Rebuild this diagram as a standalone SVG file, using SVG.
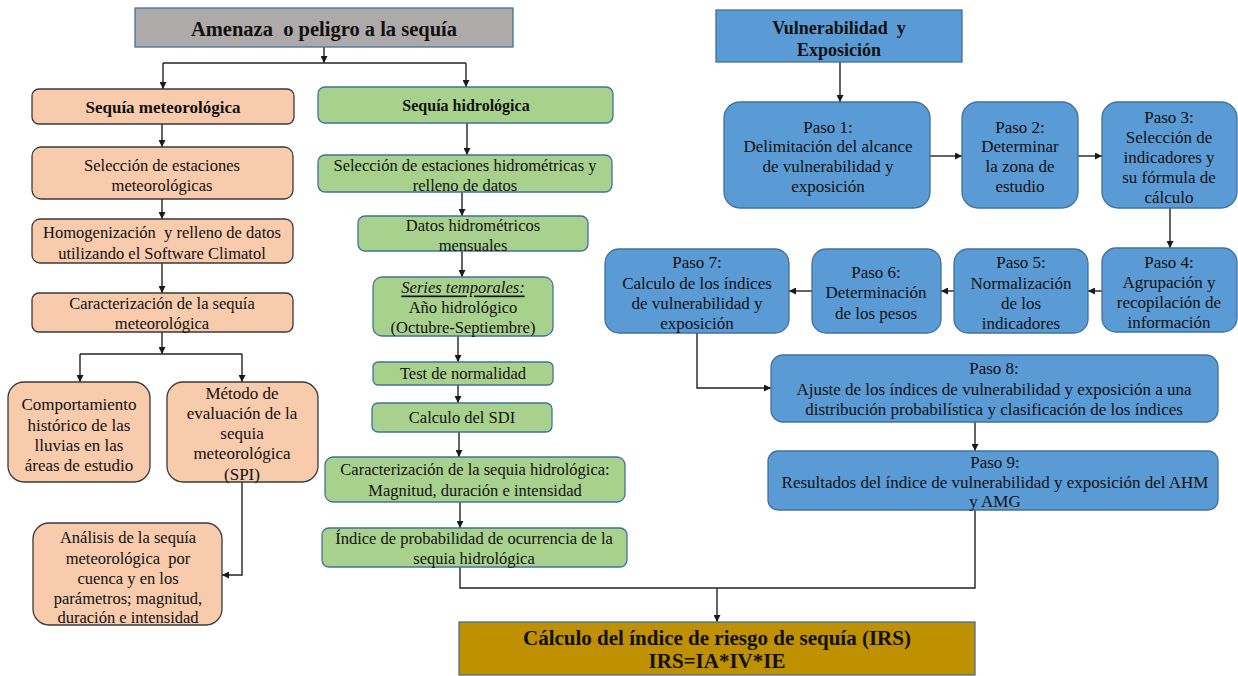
<svg xmlns="http://www.w3.org/2000/svg" width="1238" height="676" viewBox="0 0 1238 676">
  <defs>
    <marker id="arrow" viewBox="0 0 10 10" refX="10" refY="5" markerWidth="7" markerHeight="7" markerUnits="userSpaceOnUse" orient="auto">
      <path d="M0,0 L10,5 L0,10 z" fill="#1a1a1a"/>
    </marker>
    <style>
      text { font-family: "Liberation Serif", "Times New Roman", serif; fill: #111; text-anchor: middle; dominant-baseline: central; white-space: pre; }
      .t16 { font-size: 16.5px; }
      .t17 { font-size: 17px; }
      .b { font-weight: bold; }
      .met { fill: #f8cbad; stroke: #3a3a3a; stroke-width: 1.3; }
      .hid { fill: #a9d18e; stroke: #41719c; stroke-width: 1.3; }
      .vul { fill: #5b9bd5; stroke: #41719c; stroke-width: 1.3; }
      .gray { fill: #aeaaaa; stroke: #41719c; stroke-width: 1.3; }
      .gold { fill: #bf9000; stroke: #41719c; stroke-width: 1.3; }
      .conn path { fill: none; stroke: #222; stroke-width: 1.4; }
      .conn .a { marker-end: url(#arrow); }
    </style>
  </defs>
  <rect width="1238" height="676" fill="#ffffff"/>

  <!-- connectors -->
  <g id="connectors" class="conn">
    <path class="a" d="M324,47 V63"/>
    <path d="M163,63 H466"/>
    <path class="a" d="M163,63 V89"/>
    <path class="a" d="M466,63 V87"/>
    <!-- meteorological column -->
    <path class="a" d="M162,124 V147"/>
    <path class="a" d="M162,199 V219"/>
    <path class="a" d="M162,263 V293"/>
    <path class="a" d="M162,332 V354"/>
    <path d="M80,354 H242"/>
    <path class="a" d="M80,354 V382"/>
    <path class="a" d="M242,354 V382"/>
    <path class="a" d="M242,482 V575 H222"/>
    <!-- hydrological column -->
    <path class="a" d="M467,123 V155"/>
    <path class="a" d="M462,192 V216"/>
    <path class="a" d="M462,251 V277"/>
    <path class="a" d="M458,336 V362"/>
    <path class="a" d="M458,385 V403"/>
    <path class="a" d="M459,432 V457"/>
    <path class="a" d="M460,502 V528"/>
    <path d="M460,567 V588 H975 V510"/>
    <path class="a" d="M717,588 V622"/>
    <!-- vulnerability steps -->
    <path class="a" d="M840,62 V102"/>
    <path class="a" d="M930,156 H962"/>
    <path class="a" d="M1078,156 H1102"/>
    <path class="a" d="M1170,208 V248"/>
    <path class="a" d="M1102,291 H1088"/>
    <path class="a" d="M954,291 H941"/>
    <path class="a" d="M812,291 H789"/>
    <path class="a" d="M697,333 V388 H771"/>
    <path class="a" d="M975,422 V451"/>
  </g>

  <!-- hazard branch -->
  <g id="amenaza">
    <rect class="gray" x="135" y="8" width="378" height="39"/>
    <text x="324" y="29" class="b" style="font-size:20.5px" xml:space="preserve">Amenaza  o peligro a la sequía</text>
  </g>

  <g id="sequia-met">
    <rect class="met" x="32" y="89" width="262" height="35" rx="7"/>
    <text x="163" y="107" class="b" style="font-size:17px">Sequía meteorológica</text>
  </g>
  <g id="seleccion-met">
    <rect class="met" x="32" y="147" width="261" height="52" rx="9"/>
    <text x="162" y="165" class="t16">Selección de estaciones</text>
    <text x="162" y="185" class="t16">meteorológicas</text>
  </g>
  <g id="homogenizacion">
    <rect class="met" x="32" y="219" width="261" height="44" rx="8"/>
    <text x="162" y="232" class="t16" xml:space="preserve">Homogenización  y relleno de datos</text>
    <text x="162" y="253" class="t16">utilizando el Software Climatol</text>
  </g>
  <g id="caracterizacion-met">
    <rect class="met" x="32" y="293" width="261" height="39" rx="7"/>
    <text x="162" y="303" class="t16">Caracterización de la sequía</text>
    <text x="162" y="323" class="t16">meteorológica</text>
  </g>
  <g id="comportamiento">
    <rect class="met" x="8" y="382" width="142" height="100" rx="16"/>
    <text x="79" y="404" class="t17">Comportamiento</text>
    <text x="79" y="425" class="t17">histórico de las</text>
    <text x="79" y="445" class="t17">lluvias en las</text>
    <text x="79" y="465" class="t17">áreas de estudio</text>
  </g>
  <g id="metodo-spi">
    <rect class="met" x="167" y="382" width="151" height="100" rx="16"/>
    <text x="242" y="393" class="t17">Método de</text>
    <text x="242" y="413" class="t17">evaluación de la</text>
    <text x="242" y="433" class="t17">sequia</text>
    <text x="242" y="453" class="t17">meteorológica</text>
    <text x="242" y="474" class="t17">(SPI)</text>
  </g>
  <g id="analisis">
    <rect class="met" x="33" y="523" width="189" height="102" rx="16"/>
    <text x="128" y="537" class="t16">Análisis de la sequía</text>
    <text x="128" y="558" class="t16" xml:space="preserve">meteorológica  por</text>
    <text x="128" y="578" class="t16">cuenca y en los</text>
    <text x="128" y="598" class="t16">parámetros; magnitud,</text>
    <text x="128" y="617" class="t16">duración e intensidad</text>
  </g>

  <g id="sequia-hid">
    <rect class="hid" x="318" y="87" width="295" height="36" rx="7"/>
    <text x="466" y="105" class="b" style="font-size:16px">Sequía hidrológica</text>
  </g>
  <g id="seleccion-hid">
    <rect class="hid" x="318" y="155" width="294" height="37" rx="7"/>
    <text x="465" y="165" class="t16">Selección de estaciones hidrométricas y</text>
    <text x="465" y="185" class="t16">relleno de datos</text>
  </g>
  <g id="datos-hid">
    <rect class="hid" x="358" y="216" width="230" height="35" rx="7"/>
    <text x="473" y="225" class="t16">Datos hidrométricos</text>
    <text x="473" y="245" class="t16">mensuales</text>
  </g>
  <g id="series">
    <rect class="hid" x="373" y="277" width="180" height="59" rx="9"/>
    <text x="463" y="287" class="t16" style="font-style:italic;text-decoration:underline">Series temporales:</text>
    <text x="463" y="307" class="t16">Año hidrológico</text>
    <text x="463" y="327" class="t16">(Octubre-Septiembre)</text>
  </g>
  <g id="test">
    <rect class="hid" x="373" y="362" width="180" height="23" rx="5"/>
    <text x="463" y="373" class="t16">Test de normalidad</text>
  </g>
  <g id="sdi">
    <rect class="hid" x="372" y="403" width="180" height="29" rx="6"/>
    <text x="462" y="417" class="t16">Calculo del SDI</text>
  </g>
  <g id="caracterizacion-hid">
    <rect class="hid" x="325" y="457" width="300" height="45" rx="8"/>
    <text x="475" y="469" class="t16">Caracterización de la sequia hidrológica:</text>
    <text x="475" y="490" class="t16">Magnitud, duración e intensidad</text>
  </g>
  <g id="indice-prob">
    <rect class="hid" x="322" y="528" width="305" height="39" rx="7"/>
    <text x="474" y="538" class="t16">Índice de probabilidad de ocurrencia de la</text>
    <text x="474" y="558" class="t16">sequia hidrológica</text>
  </g>

  <!-- vulnerability and exposure branch -->
  <g id="vulnerabilidad">
    <rect class="vul" x="716" y="10" width="246" height="52"/>
    <text x="839" y="28" class="b" style="font-size:18px" xml:space="preserve">Vulnerabilidad  y</text>
    <text x="839" y="50" class="b" style="font-size:18px">Exposición</text>
  </g>
  <g id="paso1">
    <rect class="vul" x="724" y="102" width="206" height="106" rx="16"/>
    <text x="828" y="127" class="t17">Paso 1:</text>
    <text x="828" y="146" class="t17">Delimitación del alcance</text>
    <text x="828" y="166" class="t17">de vulnerabilidad y</text>
    <text x="828" y="186" class="t17">exposición</text>
  </g>
  <g id="paso2">
    <rect class="vul" x="962" y="102" width="116" height="106" rx="16"/>
    <text x="1020" y="127" class="t17">Paso 2:</text>
    <text x="1020" y="146" class="t17">Determinar</text>
    <text x="1020" y="166" class="t17">la zona de</text>
    <text x="1020" y="186" class="t17">estudio</text>
  </g>
  <g id="paso3">
    <rect class="vul" x="1102" y="102" width="135" height="106" rx="16"/>
    <text x="1169" y="117" class="t17">Paso 3:</text>
    <text x="1169" y="137" class="t17">Selección de</text>
    <text x="1169" y="157" class="t17">indicadores y</text>
    <text x="1169" y="177" class="t17">su fórmula de</text>
    <text x="1169" y="197" class="t17">cálculo</text>
  </g>
  <g id="paso4">
    <rect class="vul" x="1102" y="248" width="135" height="84" rx="14"/>
    <text x="1169" y="262" class="t17">Paso 4:</text>
    <text x="1169" y="282" class="t17">Agrupación y</text>
    <text x="1169" y="302" class="t17">recopilación de</text>
    <text x="1169" y="322" class="t17">información</text>
  </g>
  <g id="paso5">
    <rect class="vul" x="954" y="249" width="134" height="84" rx="14"/>
    <text x="1021" y="262" class="t17">Paso 5:</text>
    <text x="1021" y="283" class="t17">Normalización</text>
    <text x="1021" y="303" class="t17">de los</text>
    <text x="1021" y="323" class="t17">indicadores</text>
  </g>
  <g id="paso6">
    <rect class="vul" x="812" y="249" width="129" height="84" rx="14"/>
    <text x="876" y="272" class="t17">Paso 6:</text>
    <text x="876" y="292" class="t17">Determinación</text>
    <text x="876" y="313" class="t17">de los pesos</text>
  </g>
  <g id="paso7">
    <rect class="vul" x="605" y="249" width="184" height="84" rx="14"/>
    <text x="697" y="262" class="t17">Paso 7:</text>
    <text x="697" y="283" class="t17">Calculo de los índices</text>
    <text x="697" y="303" class="t17">de vulnerabilidad y</text>
    <text x="697" y="323" class="t17">exposición</text>
  </g>
  <g id="paso8">
    <rect class="vul" x="771" y="355" width="447" height="67" rx="12"/>
    <text x="994" y="368" class="t17">Paso 8:</text>
    <text x="994" y="389" class="t17">Ajuste de los índices de vulnerabilidad y exposición a una</text>
    <text x="994" y="409" class="t17">distribución probabilística y clasificación de los índices</text>
  </g>
  <g id="paso9">
    <rect class="vul" x="768" y="451" width="450" height="59" rx="10"/>
    <text x="995" y="462" class="t17">Paso 9:</text>
    <text x="995" y="482" class="t17">Resultados del índice de vulnerabilidad y exposición del AHM</text>
    <text x="995" y="501" class="t17">y AMG</text>
  </g>

  <!-- final result -->
  <g id="irs">
    <rect class="gold" x="459" y="622" width="516" height="53"/>
    <text x="717" y="638" class="b" style="font-size:21px">Cálculo del índice de riesgo de sequía (IRS)</text>
    <text x="717" y="661" class="b" style="font-size:21px">IRS=IA*IV*IE</text>
  </g>
</svg>
